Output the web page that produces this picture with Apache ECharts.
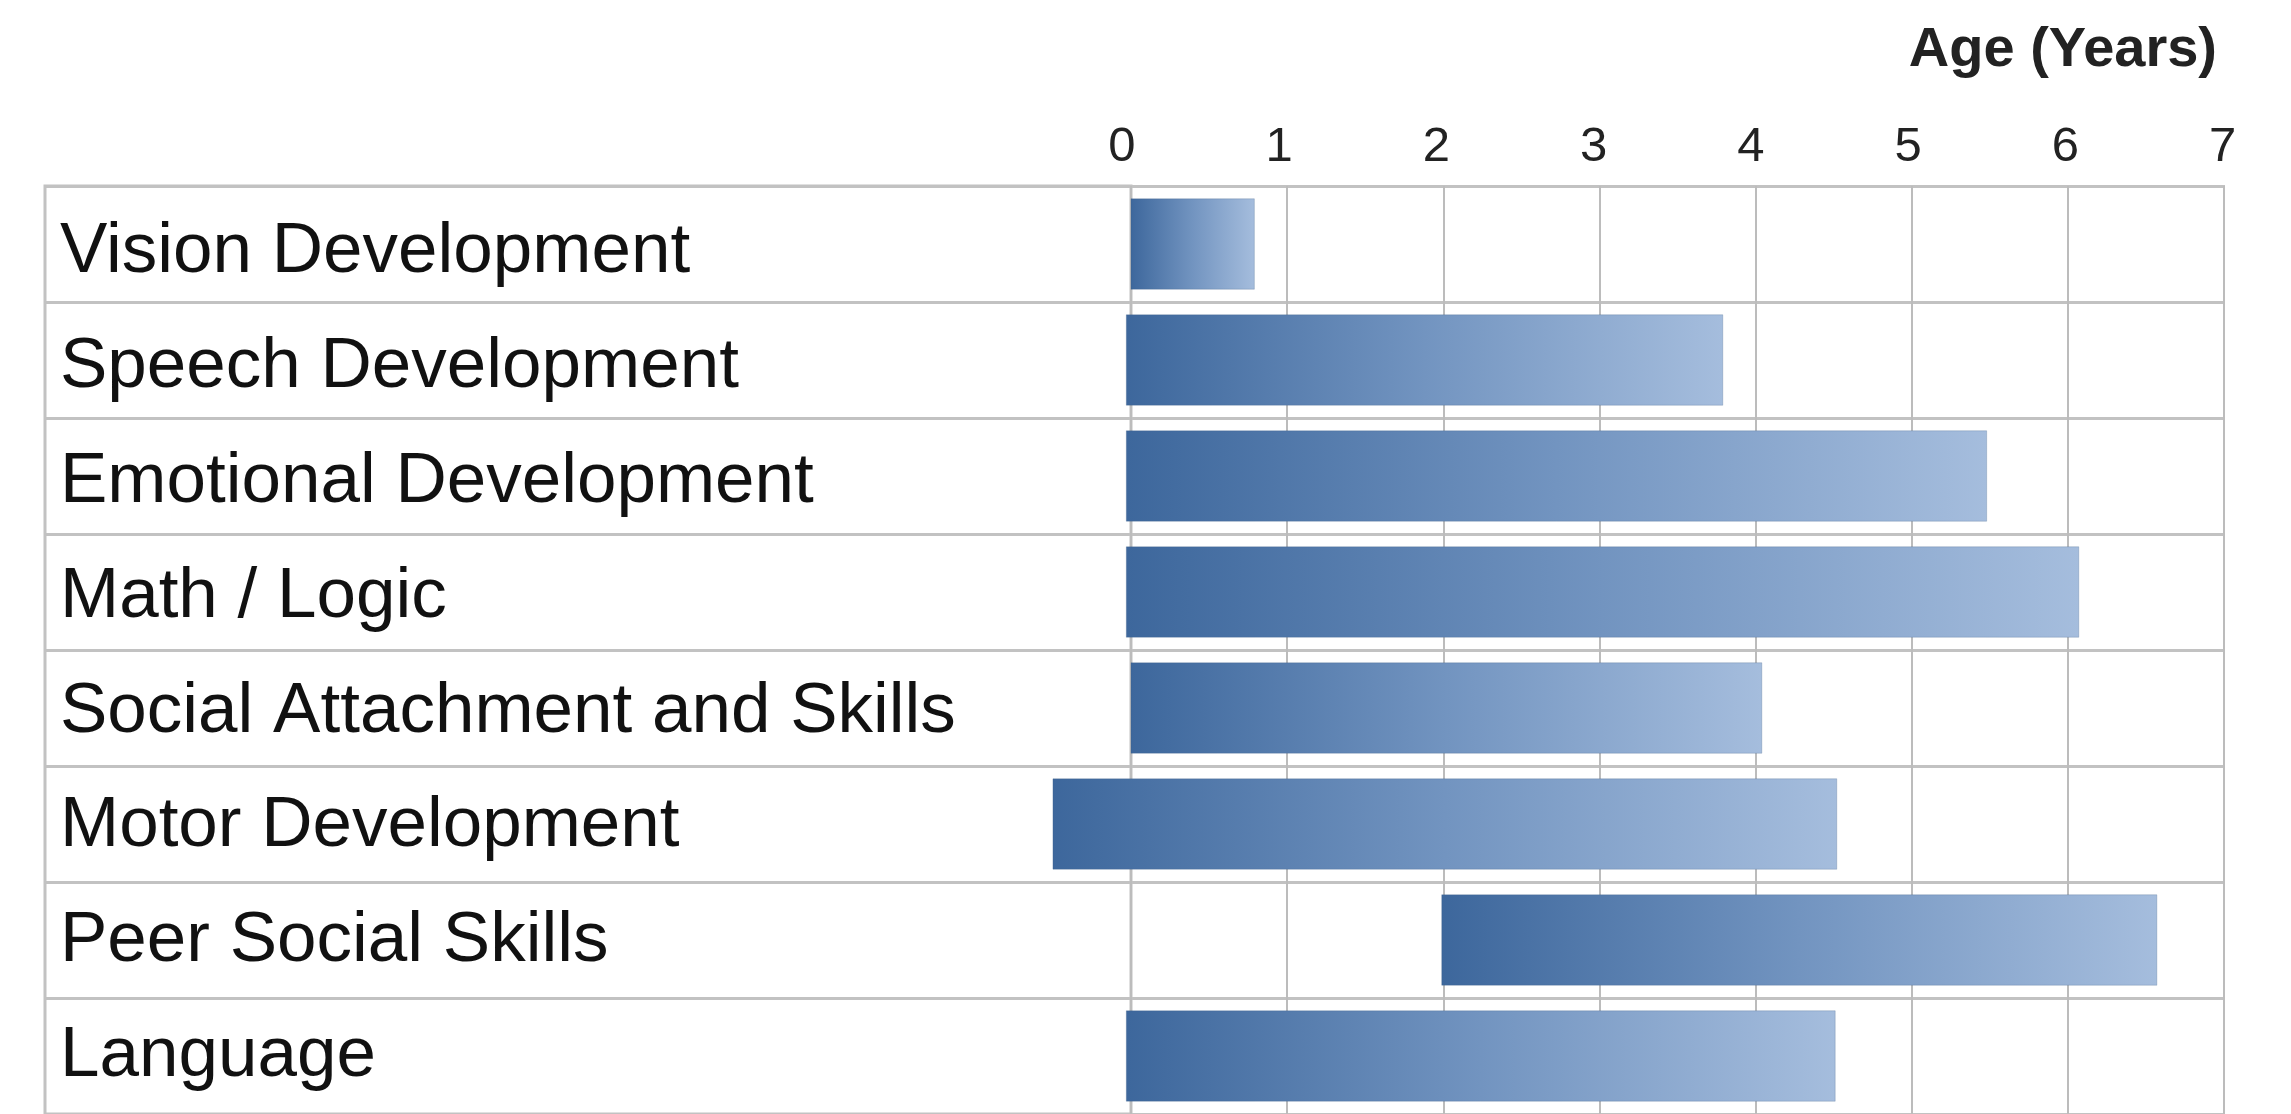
<!DOCTYPE html>
<html>
<head>
<meta charset="utf-8">
<script src="https://cdn.jsdelivr.net/npm/echarts@6/dist/echarts.min.js"></script>
<style>
html,body{margin:0;padding:0;background:#fff;}
#chart{width:2291px;height:1114px;}
</style>
</head>
<body>
<div id="chart"></div>
<script>
const categories = ['Vision Development','Speech Development','Emotional Development','Math / Logic','Social Attachment and Skills','Motor Development','Peer Social Skills','Language'];
const startAges = [0, -0.03, -0.03, -0.03, 0, -0.5, 1.99, -0.03];
const endAges = [0.79, 3.79, 5.48, 6.07, 4.04, 4.52, 6.57, 4.51];
const tickLabels = ['0','1','2','3','4','5','6','7'];
const axisTitle = 'Age (Years)';

const FONT = '"Liberation Sans", Arial, Helvetica, sans-serif';
const LINE = '#c2c2c2';
const TOP = 186, HEIGHT = 931;

const chart = echarts.init(document.getElementById('chart'), null, {renderer:'canvas'});
const barData = categories.map((c,i)=>[i, startAges[i], endAges[i]]);

chart.setOption({
  backgroundColor:'#ffffff',
  animation:false,
  title:{text:axisTitle, right:69, top:18,
    textStyle:{fontFamily:FONT, fontSize:56, fontWeight:'bold', color:'#222'}},
  grid:[
    {left:45, right:2291-1131, top:TOP, height:HEIGHT, show:true, borderColor:LINE, borderWidth:3, backgroundColor:'transparent'},
    {left:1131, right:2291-2224, top:TOP, height:HEIGHT, show:true, borderColor:LINE, borderWidth:2, backgroundColor:'transparent'},
    {left:1122, right:2291-2222.6, top:TOP, height:HEIGHT, show:false},
    {left:45, right:2291-1131, top:TOP+9, height:HEIGHT, show:false}
  ],
  xAxis:[
    {gridIndex:0, type:'value', min:0, max:1, show:false},
    {gridIndex:1, type:'value', min:0, max:7, interval:1,
      axisLine:{show:false}, axisTick:{show:false}, axisLabel:{show:false},
      splitLine:{show:true, lineStyle:{color:'#bcbcbc', width:2}}},
    {gridIndex:2, type:'category', data:tickLabels, boundaryGap:false, position:'top',
      axisLine:{show:false}, axisTick:{show:false}, splitLine:{show:false},
      axisLabel:{show:true, fontFamily:FONT, fontSize:49, color:'#222', margin:14, interval:0}},
    {gridIndex:3, type:'value', min:0, max:1, show:false}
  ],
  yAxis:[
    {gridIndex:0, type:'category', data:categories, inverse:true,
      axisLine:{show:false}, axisTick:{show:false}, axisLabel:{show:false},
      splitLine:{show:true, lineStyle:{color:LINE, width:3}}},
    {gridIndex:1, type:'category', data:categories, inverse:true,
      axisLine:{show:false}, axisTick:{show:false}, axisLabel:{show:false},
      splitLine:{show:true, lineStyle:{color:LINE, width:3}}},
    {gridIndex:2, type:'value', show:false},
    {gridIndex:3, type:'category', data:categories, inverse:true,
      axisLine:{show:false}, axisTick:{show:false}, splitLine:{show:false},
      axisLabel:{show:true, align:'left', margin:-15, fontFamily:FONT, fontSize:71, color:'#111', interval:0}}
  ],
  series:[{
    type:'custom', xAxisIndex:1, yAxisIndex:1, clip:false,
    data:barData,
    encode:{x:[1,2], y:0},
    renderItem:function(params, api){
      const idx = api.value(0);
      const p0 = api.coord([api.value(1), idx]);
      const p1 = api.coord([api.value(2), idx]);
      const h = api.size([0,1])[1]*0.78;
      return {
        type:'rect',
        shape:{x:p0[0], y:p0[1]-h/2, width:p1[0]-p0[0], height:h},
        style:{
          fill:new echarts.graphic.LinearGradient(0,0,1,0,[
            {offset:0, color:'#3d679c'},
            {offset:0.5, color:'#7294c0'},
            {offset:1, color:'#a5bddd'}
          ]),
          stroke:'rgba(60,90,130,0.25)', lineWidth:1
        }
      };
    }
  }]
});
</script>
</body>
</html>
